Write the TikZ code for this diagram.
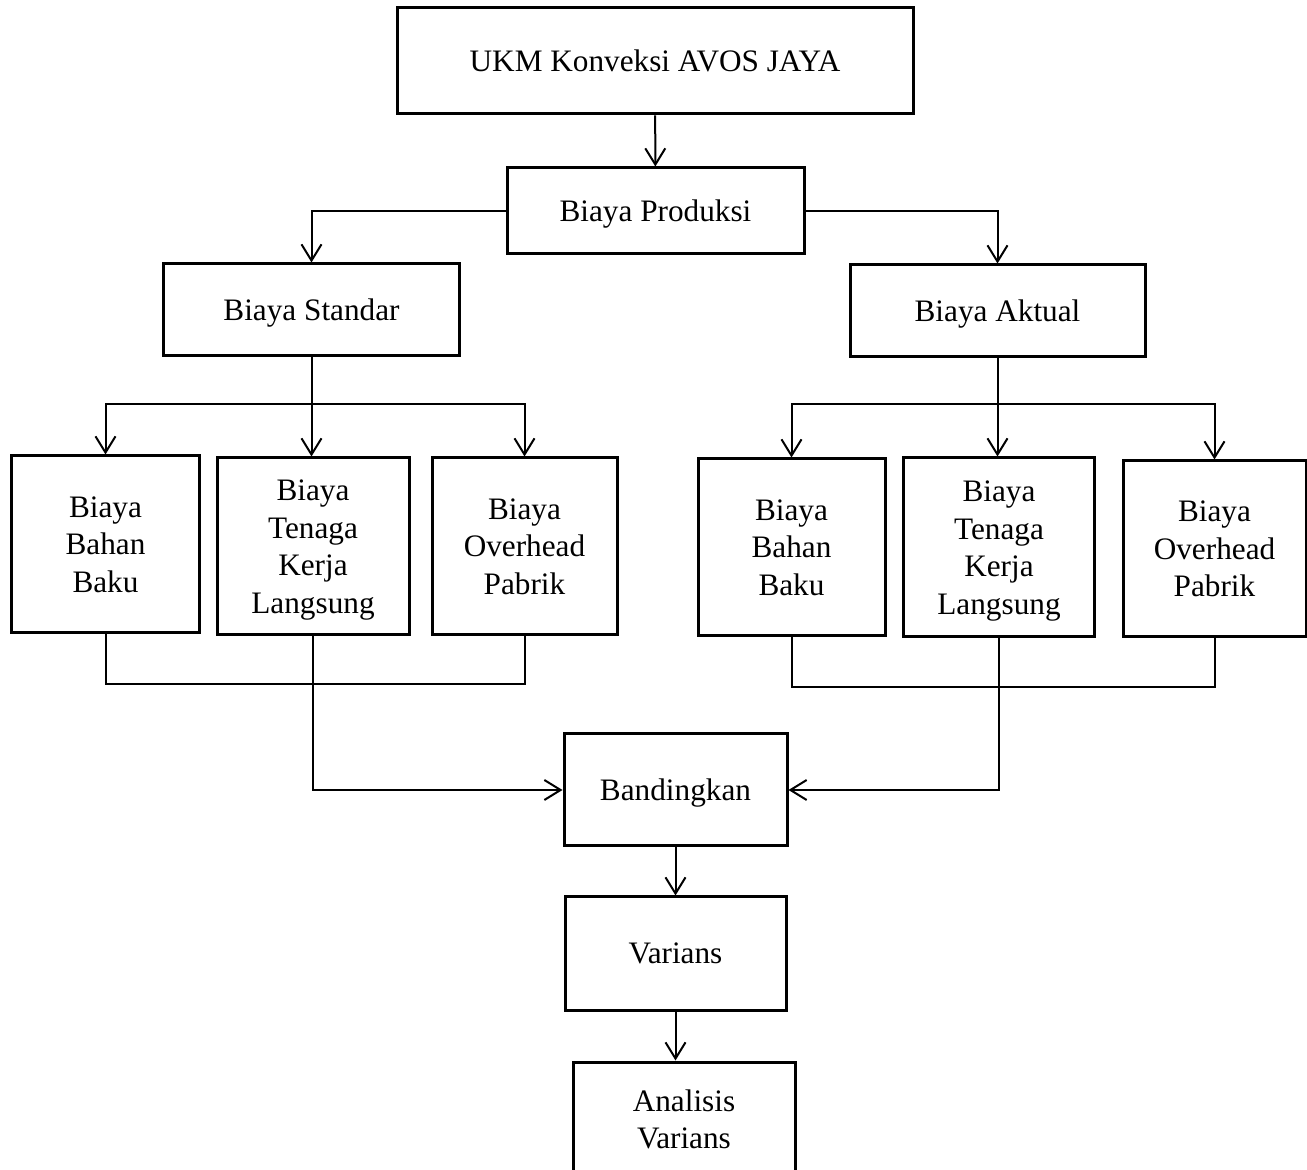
\documentclass[tikz,border=0pt]{standalone}
\usepackage{fontspec}
\setmainfont{Liberation Serif}
\usetikzlibrary{arrows.meta}

\begin{document}
\begin{tikzpicture}[x=0.4pt, y=-0.4pt,
  box/.style={draw, line width=1.2pt, align=center, inner sep=0pt,
    text depth=0pt, font=\fontsize{12.5}{15}\selectfont},
  arr/.style={line width=0.8pt, -{Straight Barb[length=6.5pt,width=8pt]}},
  ln/.style={line width=0.8pt}]

  \useasboundingbox (0,0) rectangle (1307,1170);
  \clip (0,0) rectangle (1307,1170);

  \coordinate (UKM)  at (655, 61);
  \coordinate (PROD) at (655.5, 211);
  \coordinate (STD)  at (311.5, 310);
  \coordinate (AKT)  at (997.5, 311);
  \coordinate (LB1)  at (105.5, 544.5);
  \coordinate (LB2)  at (313, 546.5);
  \coordinate (LB3)  at (524.5, 546.5);
  \coordinate (RB1)  at (791.5, 547.5);
  \coordinate (RB2)  at (999, 547.5);
  \coordinate (RB3)  at (1214.5, 549);
  \coordinate (BAND) at (675.5, 790);
  \coordinate (VAR)  at (675.5, 953.5);
  \coordinate (ANAL) at (684, 1119);
  \coordinate (LSPLIT) at (310, 404);
  \coordinate (RSPLIT) at (997, 404);
  \coordinate (LJOIN) at (0, 684);
  \coordinate (RJOIN) at (0, 687);

  \node (ukm) at (UKM) [box, minimum width=206.4pt, minimum height=42.4pt]{UKM Konveksi AVOS JAYA};
  \node (prod) at (PROD) [box, minimum width=118.8pt, minimum height=34.4pt]{Biaya Produksi};
  \node (std) at (STD) [box, minimum width=118pt, minimum height=36.8pt]{Biaya Standar};
  \node (akt) at (AKT) [box, minimum width=118pt, minimum height=36.8pt]{Biaya Aktual};

  \node (lb1) at (LB1) [box, minimum width=74.8pt, minimum height=70.8pt]{Biaya\\Bahan\\Baku};
  \node (lb2) at (LB2) [box, minimum width=76.8pt, minimum height=70.8pt]{Biaya\\Tenaga\\Kerja\\Langsung};
  \node (lb3) at (LB3) [box, minimum width=74pt, minimum height=70.8pt]{Biaya\\Overhead\\Pabrik};
  \node (rb1) at (RB1) [box, minimum width=74.8pt, minimum height=70.8pt]{Biaya\\Bahan\\Baku};
  \node (rb2) at (RB2) [box, minimum width=76.4pt, minimum height=71.6pt]{Biaya\\Tenaga\\Kerja\\Langsung};
  \node (rb3) at (RB3) [box, minimum width=73.2pt, minimum height=70.4pt]{Biaya\\Overhead\\Pabrik};

  \node (band) at (BAND) [box, minimum width=89.2pt, minimum height=44.8pt]{Bandingkan};
  \node (var) at (VAR) [box, minimum width=88.4pt, minimum height=45.2pt]{Varians};
  \node (anal) at (ANAL) [box, minimum width=88.8pt, minimum height=45.6pt]{Analisis\\Varians};

  \draw[arr] (ukm) -- (prod);
  \draw[arr] (prod.west) -| (std.north);
  \draw[arr] (prod.east) -| (akt.north);

  \draw[arr] (std.south) -- (std.south |- lb2.north);
  \draw[arr] (LSPLIT) -| (lb1.north);
  \draw[arr] (LSPLIT) -| (lb3.north);
  \draw[arr] (akt.south) -- (akt.south |- rb2.north);
  \draw[arr] (RSPLIT) -| (rb1.north);
  \draw[arr] (RSPLIT) -| (rb3.north);

  \draw[ln] (lb1.south) -- (lb1.south |- LJOIN) -| (lb3.south);
  \draw[ln] (rb1.south) -- (rb1.south |- RJOIN) -| (rb3.south);
  \draw[arr] (lb2.south) |- (band.west);
  \draw[arr] (rb2.south) |- (band.east);

  \draw[arr] (band) -- (var);
  \draw[arr] (var.south) -- (var.south |- anal.north);

\end{tikzpicture}
\end{document}
